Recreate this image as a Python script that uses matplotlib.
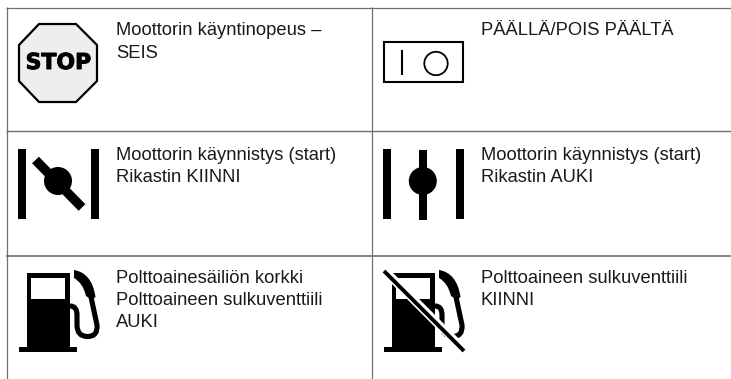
import matplotlib
matplotlib.use("Agg")
import matplotlib.pyplot as plt
import matplotlib.patheffects as pe
from matplotlib.patches import Polygon, Rectangle, Circle, PathPatch
from matplotlib.path import Path

plt.rcParams['font.family'] = ['Liberation Sans', 'DejaVu Sans']

# Table content
cell_lines = [
    ["Moottorin käyntinopeus –", "SEIS"],
    ["PÄÄLLÄ/POIS PÄÄLTÄ"],
    ["Moottorin käynnistys (start)", "Rikastin KIINNI"],
    ["Moottorin käynnistys (start)", "Rikastin AUKI"],
    ["Polttoainesäiliön korkki", "Polttoaineen sulkuventtiili", "AUKI"],
    ["Polttoaineen sulkuventtiili", "KIINNI"],
]
text_x = [116, 481, 116, 481, 116, 481]
text_base = [35, 35, 160, 160, 283, 283]
line_step = [23, 23, 22, 22, 22, 22]

fig = plt.figure(figsize=(7.31, 3.79), dpi=100)
ax = fig.add_axes([0, 0, 1, 1])
ax.set_xlim(0, 731)
ax.set_ylim(379, 0)
ax.axis('off')

GRID = '#707070'
for y, lw in [(7.5, 0.9), (131.3, 1.0), (255.7, 1.2)]:
    ax.plot([6, 731], [y, y], color=GRID, lw=lw, solid_capstyle='butt')
for x in [6.5, 371.5]:
    ax.plot([x, x], [7, 379], color=GRID, lw=0.9, solid_capstyle='butt')

for lines, x, b, s in zip(cell_lines, text_x, text_base, line_step):
    for i, t in enumerate(lines):
        ax.text(x, b + i * s, t, fontsize=13.25, color='#1a1a1a', va='baseline', ha='left')

# STOP sign
ax.add_patch(Polygon([(39, 24), (76, 24), (97, 45), (97, 81), (76, 102), (39, 102), (19, 81), (19, 45)],
                     closed=True, fc='#eeeeee', ec='black', lw=1.6, joinstyle='miter'))
ax.text(58.5, 63, "STOP", fontsize=15.8, fontweight='bold', family='DejaVu Sans',
        ha='center', va='center', color='black',
        path_effects=[pe.withStroke(linewidth=0.7, foreground='black')])

# Switch
ax.add_patch(Rectangle((384, 42), 79, 40, fc='white', ec='black', lw=1.5))
ax.plot([401.7, 401.7], [50, 75], color='black', lw=1.5, solid_capstyle='butt')
ax.add_patch(Circle((436, 63.5), 11.7, fc='white', ec='black', lw=1.3))

# Choke closed
for x0 in (17.5, 90.5):
    ax.add_patch(Rectangle((x0, 149), 8.5, 70, fc='black', ec='none'))
ax.add_patch(Circle((58, 181), 14, fc='black', ec='none'))
ax.plot([35.5, 82], [160, 207.5], color='black', lw=6.8, solid_capstyle='butt')

# Choke open
for x0 in (382.5, 455.5):
    ax.add_patch(Rectangle((x0, 149), 8.5, 70, fc='black', ec='none'))
ax.add_patch(Circle((422.8, 181), 14, fc='black', ec='none'))
ax.add_patch(Rectangle((418.9, 150), 8.5, 70, fc='black', ec='none'))


def pump(dx):
    ax.add_patch(Rectangle((26.5 + dx, 272.5), 43.5, 74, fc='black', ec='none'))
    ax.add_patch(Rectangle((31 + dx, 277.5), 34, 21.5, fc='white', ec='none'))
    ax.add_patch(Rectangle((19 + dx, 346.5), 58, 5, fc='black', ec='none'))
    # nozzle
    nv = [(74, 270), (92, 273), (95.5, 297), (92, 300), (86, 296),
          (83, 283), (74, 278), (74, 270)]
    nc = [Path.MOVETO, Path.CURVE3, Path.CURVE3, Path.LINETO, Path.LINETO,
          Path.CURVE3, Path.CURVE3, Path.CLOSEPOLY]
    ax.add_patch(PathPatch(Path([(x + dx, y) for x, y in nv], nc), fc='black', ec='none'))
    # hose
    hv = [(91, 297), (97, 325), (98, 336.5), (87.5, 336.5), (77, 336.5), (77, 325),
          (77, 315), (77, 306), (70, 306)]
    hc = [Path.MOVETO, Path.LINETO, Path.CURVE3, Path.CURVE3, Path.CURVE3, Path.CURVE3,
          Path.LINETO, Path.CURVE3, Path.CURVE3]
    ax.add_patch(PathPatch(Path([(x + dx, y) for x, y in hv], hc), fc='none', ec='black',
                           lw=3.7, capstyle='butt'))


pump(0)
pump(365)
# Strike-through on second pump: white halo + black bar
ax.plot([384, 464], [270, 350], color='white', lw=6.2, solid_capstyle='butt')
ax.plot([384, 464], [271, 351], color='black', lw=2.8, solid_capstyle='butt')

fig.savefig('out.png', dpi=100)
